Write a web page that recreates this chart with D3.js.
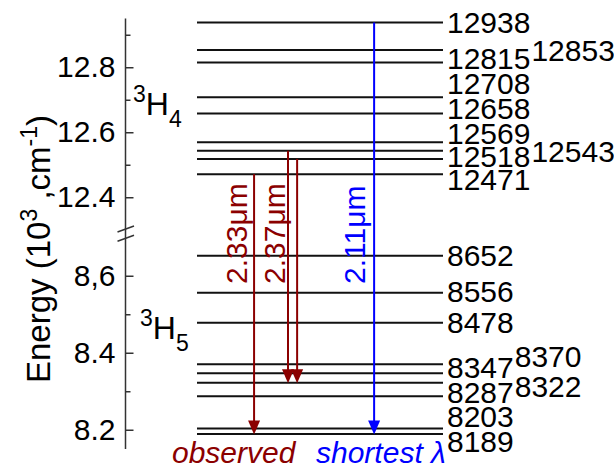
<!DOCTYPE html>
<html>
<head>
<meta charset="utf-8">
<script src="https://cdn.jsdelivr.net/npm/d3@7"></script>
<style>
  html, body { margin: 0; padding: 0; background: #fff; }
  svg { display: block; font-family: "Liberation Sans", Arial, sans-serif; }
</style>
</head>
<body>
<svg id="chart" width="614" height="470"></svg>
<script>
// ---------- data ----------
// energy levels in cm^-1
const upperLevels = [12938, 12853, 12815, 12708, 12658, 12569, 12543, 12518, 12471]; // 3H4
const lowerLevels = [8652, 8556, 8478, 8370, 8347, 8322, 8287, 8203, 8189];          // 3H5
// tick values (10^3 cm^-1) and labels
const upperMajorTicks = [12.4, 12.6, 12.8];
const upperTickLabels = ["12.4", "12.6", "12.8"];
const upperMinorTicks = [12.5, 12.7, 12.9];
const lowerMajorTicks = [8.2, 8.4, 8.6];
const lowerTickLabels = ["8.2", "8.4", "8,6"];
const lowerMinorTicks = [8.3, 8.5];
// transitions: upper level -> lower level
const transFrom  = [12471, 12543, 12518, 12938];
const transTo    = [8189, 8322, 8322, 8189];
const transLabel = ["2.33\u03BCm", "2.37\u03BCm", "", "2.11\u03BCm"];
const transKind  = ["observed", "observed", "observed", "shortest"];

// ---------- layout (not data) ----------
const upperLabelDy  = [10.3, 10.7, 7, -3.4, 6, 1.3, 11, 8.4, 16];
const upperLabelCol = [0, 1, 0, 0, 0, 0, 1, 0, 0];
const lowerLabelDy  = [10, 9, 10, 3, 4.7, 14.3, 6.3, -2, 17.7];
const lowerLabelCol = [0, 0, 0, 1, 0, 1, 0, 0, 0];
const transPos      = [23.2, 37, 40.7, 72];   // position along the level line (0-100)
const transLabelDx  = [-7, -3, 0, -9];

const colors = { observed: "#8b0000", shortest: "#0000ff" };
const FS = 30;

const svg = d3.select("#chart");

// ---------- scales ----------
const yUp = d3.scaleLinear().domain([12.31, 12.95]).range([226.5, 18.5]);
const yLo = d3.scaleLinear().domain([8.15, 8.70]).range([449, 237.25]);
const xL  = d3.scaleLinear().domain([0, 100]).range([197, 443]);
const axisX = 125.5;

// ---------- axis ----------
const axG = svg.append("g").attr("transform", `translate(${axisX},0)`);
function addAxis(scale, major, labels, minor) {
  const gM = axG.append("g").call(
    d3.axisLeft(scale).tickValues(major).tickSizeInner(-8).tickSizeOuter(0).tickPadding(10)
      .tickFormat((d, i) => labels[i]));
  const gm = axG.append("g").call(
    d3.axisLeft(scale).tickValues(minor).tickSizeInner(-5).tickSizeOuter(0).tickFormat(""));
  [gM, gm].forEach(g => {
    g.select(".domain").remove();
    g.selectAll("line").attr("stroke", "#333").attr("stroke-width", 1.5);
  });
  gM.selectAll("text").attr("font-size", FS).attr("fill", "#000")
    .attr("font-family", "'Liberation Sans', Arial, sans-serif");
}
addAxis(yUp, upperMajorTicks, upperTickLabels, upperMinorTicks);
addAxis(yLo, lowerMajorTicks, lowerTickLabels, lowerMinorTicks);

axG.append("line").attr("x1", 0).attr("x2", 0)
  .attr("y1", yUp.range()[1]).attr("y2", yLo.range()[0])
  .attr("stroke", "#333").attr("stroke-width", 1.5);
// break marks
const yb1 = yUp.range()[0], yb2 = yLo.range()[1];
[yb1 + 2.5, yb2 + 1].forEach(yy => {
  axG.append("line").attr("x1", -8).attr("x2", 8.5)
    .attr("y1", yy + 3).attr("y2", yy - 3)
    .attr("stroke", "#333").attr("stroke-width", 1.5);
});

// axis title
const title = svg.append("text")
  .attr("transform", "translate(50,249) rotate(-90)")
  .attr("text-anchor", "middle").attr("font-size", 33).attr("fill", "#000");
title.append("tspan").text("Energy (10");
title.append("tspan").attr("font-size", 23).attr("dy", -13).text("3");
title.append("tspan").attr("dy", 13).text(" ,cm");
title.append("tspan").attr("font-size", 23).attr("dy", -13).text("-1");
title.append("tspan").attr("dy", 13).text(")");

// term labels
function termLabel(x, y, sub) {
  const t = svg.append("text").attr("x", x).attr("y", y).attr("font-size", 32).attr("fill", "#000");
  t.append("tspan").attr("font-size", 23).attr("dy", -13).text("3");
  t.append("tspan").attr("dy", 13).text("H");
  t.append("tspan").attr("font-size", 23).attr("dy", 12).text(sub);
}
termLabel(133, 115, "4");
termLabel(140, 339, "5");

// ---------- levels ----------
function drawLevels(levels, scale, dys, cols) {
  const g = svg.append("g");
  g.selectAll("line").data(levels).join("line")
    .attr("x1", xL(0)).attr("x2", xL(100))
    .attr("y1", d => scale(d / 1000)).attr("y2", d => scale(d / 1000))
    .attr("stroke", "#111").attr("stroke-width", 2);
  g.selectAll("text").data(levels).join("text")
    .attr("x", (d, i) => cols[i] ? xL(100) + 4 + String(d).length * 0.556 * FS + 1 : xL(100) + 4)
    .attr("y", (d, i) => scale(d / 1000) + dys[i])
    .attr("font-size", FS).attr("fill", "#000")
    .text(d => d);
}
drawLevels(upperLevels, yUp, upperLabelDy, upperLabelCol);
drawLevels(lowerLevels, yLo, lowerLabelDy, lowerLabelCol);

// ---------- transitions ----------
const tg = svg.append("g");
transFrom.forEach((e1, i) => {
  const x = xL(transPos[i]);
  const y1 = yUp(e1 / 1000);
  const y2 = yLo(transTo[i] / 1000) + 0.5;
  const c = colors[transKind[i]];
  tg.append("line").attr("x1", x).attr("x2", x).attr("y1", y1).attr("y2", y2 - 12)
    .attr("stroke", c).attr("stroke-width", 2);
  tg.append("path")
    .attr("d", `M${x - 6},${y2 - 14} L${x + 6},${y2 - 14} L${x},${y2} Z`)
    .attr("fill", c);
  if (transLabel[i]) {
    tg.append("text")
      .attr("transform", `translate(${x + transLabelDx[i]},284) rotate(-90)`)
      .attr("font-size", FS).attr("fill", c).text(transLabel[i]);
  }
});

// legend words
svg.append("text").attr("x", 172).attr("y", 463).attr("font-size", FS)
  .attr("font-style", "italic").attr("fill", colors.observed).text("observed");
svg.append("text").attr("x", 316).attr("y", 463).attr("font-size", FS)
  .attr("font-style", "italic").attr("fill", colors.shortest).text("shortest \u03BB");
</script>
</body>
</html>
